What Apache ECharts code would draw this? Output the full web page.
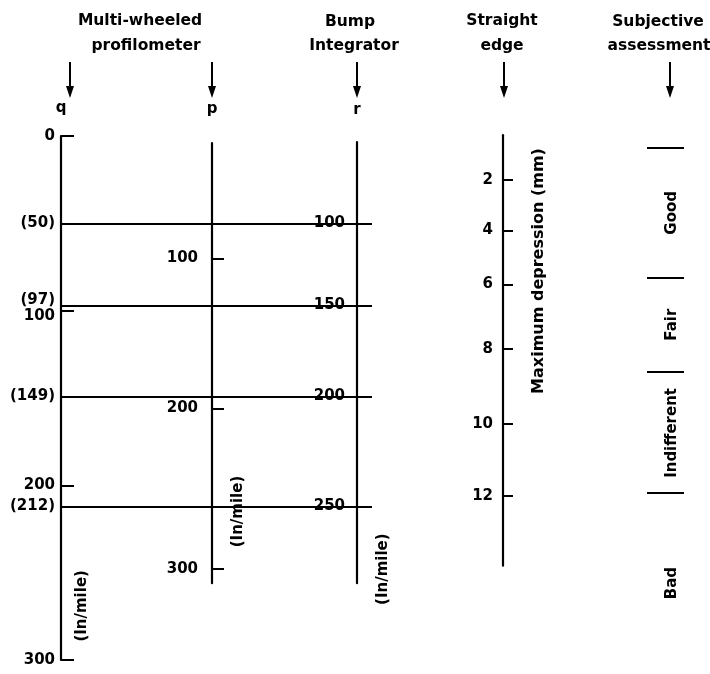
<!DOCTYPE html>
<html>
<head>
<meta charset="utf-8">
<script src="https://cdn.jsdelivr.net/npm/echarts@6/dist/echarts.min.js"></script>
<style>
  html, body { margin: 0; padding: 0; background: #fff; }
  #chart { width: 710px; height: 674px; }
</style>
</head>
<body>
<div id="chart"></div>
<script>
// Every scale is placed on the common roughness scale q (in/mile).
const qTicks = [0, 100, 200, 300];

// Bump integrator r ticks and their equivalent q values (bracketed labels)
const rTicks = [100, 150, 200, 250];
const rAtQ = [50, 97, 149, 212];

// Multi-wheeled profilometer p ticks and their equivalent q values
const pTicks = [100, 200, 300];
const pAtQ = [70, 156, 248];

// Straight edge maximum depression (mm) and equivalent q values
const sTicks = [2, 4, 6, 8, 10, 12];
const sAtQ = [25, 54, 85, 122, 165, 206];

// Subjective assessment bands: boundaries and label positions in q units
const bandNames = ['Good', 'Fair', 'Indifferent', 'Bad'];
const bandBounds = [7, 81, 135, 204];
const bandLabelAtQ = [44, 108, 170, 256];

// ---- layout ----
const TOP = 136, SPAN = 524, QMAX = 300;
const px = q => TOP + q * SPAN / QMAX;
const X = { q: 61, p: 212, r: 357, s: 503, subj: 647 };
const INK = '#000';
const FONT = '"DejaVu Sans", sans-serif';

function gridFor(left, width, qFrom, qTo) {
  return { left: left, width: width, top: px(qFrom), height: px(qTo) - px(qFrom) };
}

const grids = [
  gridFor(X.q, X.r - X.q, 0, QMAX),   // q axis + connecting lines
  gridFor(X.p, 1, 4, 256),            // p axis
  gridFor(X.r, 1, 3.5, 256),          // r axis
  gridFor(X.s, 1, -0.5, 246),         // straight edge
  gridFor(X.subj, 37, 0, QMAX)        // subjective assessment
];
const ranges = [[0, QMAX], [4, 256], [3.5, 256], [-0.5, 246], [0, QMAX]];

const xAxes = grids.map((g, i) => ({
  gridIndex: i, type: 'value', min: 0, max: 1, show: false
}));

const labelBase = { color: INK, fontSize: 15, fontWeight: 'bold', fontFamily: FONT };

function scaleAxis(i, opts) {
  return {
    gridIndex: i, type: 'value', inverse: true,
    min: ranges[i][0], max: ranges[i][1],
    position: 'left',
    splitLine: { show: false },
    axisLine: { show: true, onZero: false, lineStyle: { color: INK, width: 2.2 } },
    axisTick: {
      show: true, inside: true, length: opts.tickLen,
      customValues: opts.tickValues,
      lineStyle: { color: INK, width: 2 }
    },
    axisLabel: Object.assign({
      show: true, margin: opts.margin,
      customValues: opts.labelValues || opts.tickValues,
      formatter: opts.formatter
    }, labelBase, { rich: opts.rich || {} }),
    name: opts.name || '',
    nameLocation: 'start',
    nameGap: opts.nameGap || 20,
    nameTextStyle: { color: INK, fontSize: 15, fontWeight: 'bold', fontFamily: FONT }
  };
}

const richBase = { fontSize: 15, fontWeight: 'bold', fontFamily: FONT, color: INK };
const yAxes = [
  scaleAxis(0, {
    tickLen: 13, tickValues: qTicks, margin: 6,
    labelValues: qTicks.concat(rAtQ),
    formatter: v => {
      if (rAtQ.includes(v)) return v === 97 ? '{up|(' + v + ')}' : '(' + v + ')';
      return v === 100 ? '{dn|' + v + '}' : String(v);
    },
    rich: {
      up: Object.assign({ padding: [0, 0, 11, 0] }, richBase),
      dn: Object.assign({ padding: [11, 0, 0, 0] }, richBase)
    },
    name: 'q', nameGap: 20
  }),
  scaleAxis(1, {
    tickLen: 12, tickValues: pAtQ, margin: 14,
    formatter: v => String(pTicks[pAtQ.indexOf(v)]),
    name: 'p', nameGap: 26
  }),
  scaleAxis(2, {
    tickLen: 15, tickValues: rAtQ, margin: 12,
    formatter: v => String(rTicks[rAtQ.indexOf(v)]),
    name: 'r', nameGap: 25
  }),
  scaleAxis(3, {
    tickLen: 10, tickValues: sAtQ, margin: 10,
    formatter: v => String(sTicks[sAtQ.indexOf(v)])
  }),
  {
    gridIndex: 4, type: 'value', inverse: true, min: 0, max: QMAX, show: false
  }
];

const series = [
  {
    // horizontal lines joining the bracketed q values to the r scale
    type: 'lines', coordinateSystem: 'cartesian2d', xAxisIndex: 0, yAxisIndex: 0,
    silent: true,
    lineStyle: { color: INK, width: 1.8, opacity: 1 },
    data: rAtQ.map(q => ({ coords: [[0, q], [1, q]] }))
  },
  {
    // band separators of the subjective assessment
    type: 'lines', coordinateSystem: 'cartesian2d', xAxisIndex: 4, yAxisIndex: 4,
    silent: true,
    lineStyle: { color: INK, width: 1.8, opacity: 1 },
    data: bandBounds.map(b => ({ coords: [[0, b], [1, b]] }))
  },
  {
    type: 'scatter', xAxisIndex: 4, yAxisIndex: 4, silent: true,
    symbolSize: 0,
    itemStyle: { opacity: 1 },
    label: {
      show: true, position: 'inside', rotate: 90,
      formatter: '{b}', color: INK, fontSize: 15, fontWeight: 'bold', fontFamily: FONT
    },
    data: bandLabelAtQ.map((q, i) => ({ name: bandNames[i], value: [0.68, q] }))
  }
];

// header texts, arrows and unit captions
const headFont = 'bold 15.5px "DejaVu Sans", sans-serif';
const unitFont = 'bold 15px "DejaVu Sans", sans-serif';
function text(t, x, y, font, rot) {
  return {
    type: 'text', x: x, y: y, rotation: rot || 0, silent: true,
    style: { text: t, font: font, fill: INK, align: 'center', verticalAlign: 'middle' }
  };
}
function arrow(x) {
  return [
    { type: 'line', silent: true, shape: { x1: x, y1: 62, x2: x, y2: 90 },
      style: { stroke: INK, lineWidth: 2 } },
    { type: 'polygon', silent: true, shape: { points: [[x - 4, 86], [x + 4, 86], [x, 98]] },
      style: { fill: INK } }
  ];
}
const graphics = [
  text('Multi-wheeled', 140, 21, headFont),
  text('profilometer', 146, 46, headFont),
  text('Bump', 350, 22, headFont),
  text('Integrator', 354, 46, headFont),
  text('Straight', 502, 21, headFont),
  text('edge', 502, 46, headFont),
  text('Subjective', 658, 22, headFont),
  text('assessment', 659, 46, headFont),
  text('Maximum depression (mm)', 539, 271, 'bold 16px "DejaVu Sans", sans-serif', Math.PI / 2),
  text('(In/mile)', X.q + 21, px(269), unitFont, Math.PI / 2),
  text('(In/mile)', X.p + 26, px(215), unitFont, Math.PI / 2),
  text('(In/mile)', X.r + 26, px(248), unitFont, Math.PI / 2)
].concat(arrow(70), arrow(X.p), arrow(X.r), arrow(X.s + 1), arrow(670));

const chart = echarts.init(document.getElementById('chart'), null, { renderer: 'canvas' });
chart.setOption({
  backgroundColor: '#fff',
  animation: false,
  grid: grids,
  xAxis: xAxes,
  yAxis: yAxes,
  series: series,
  graphic: graphics
});
</script>
</body>
</html>
